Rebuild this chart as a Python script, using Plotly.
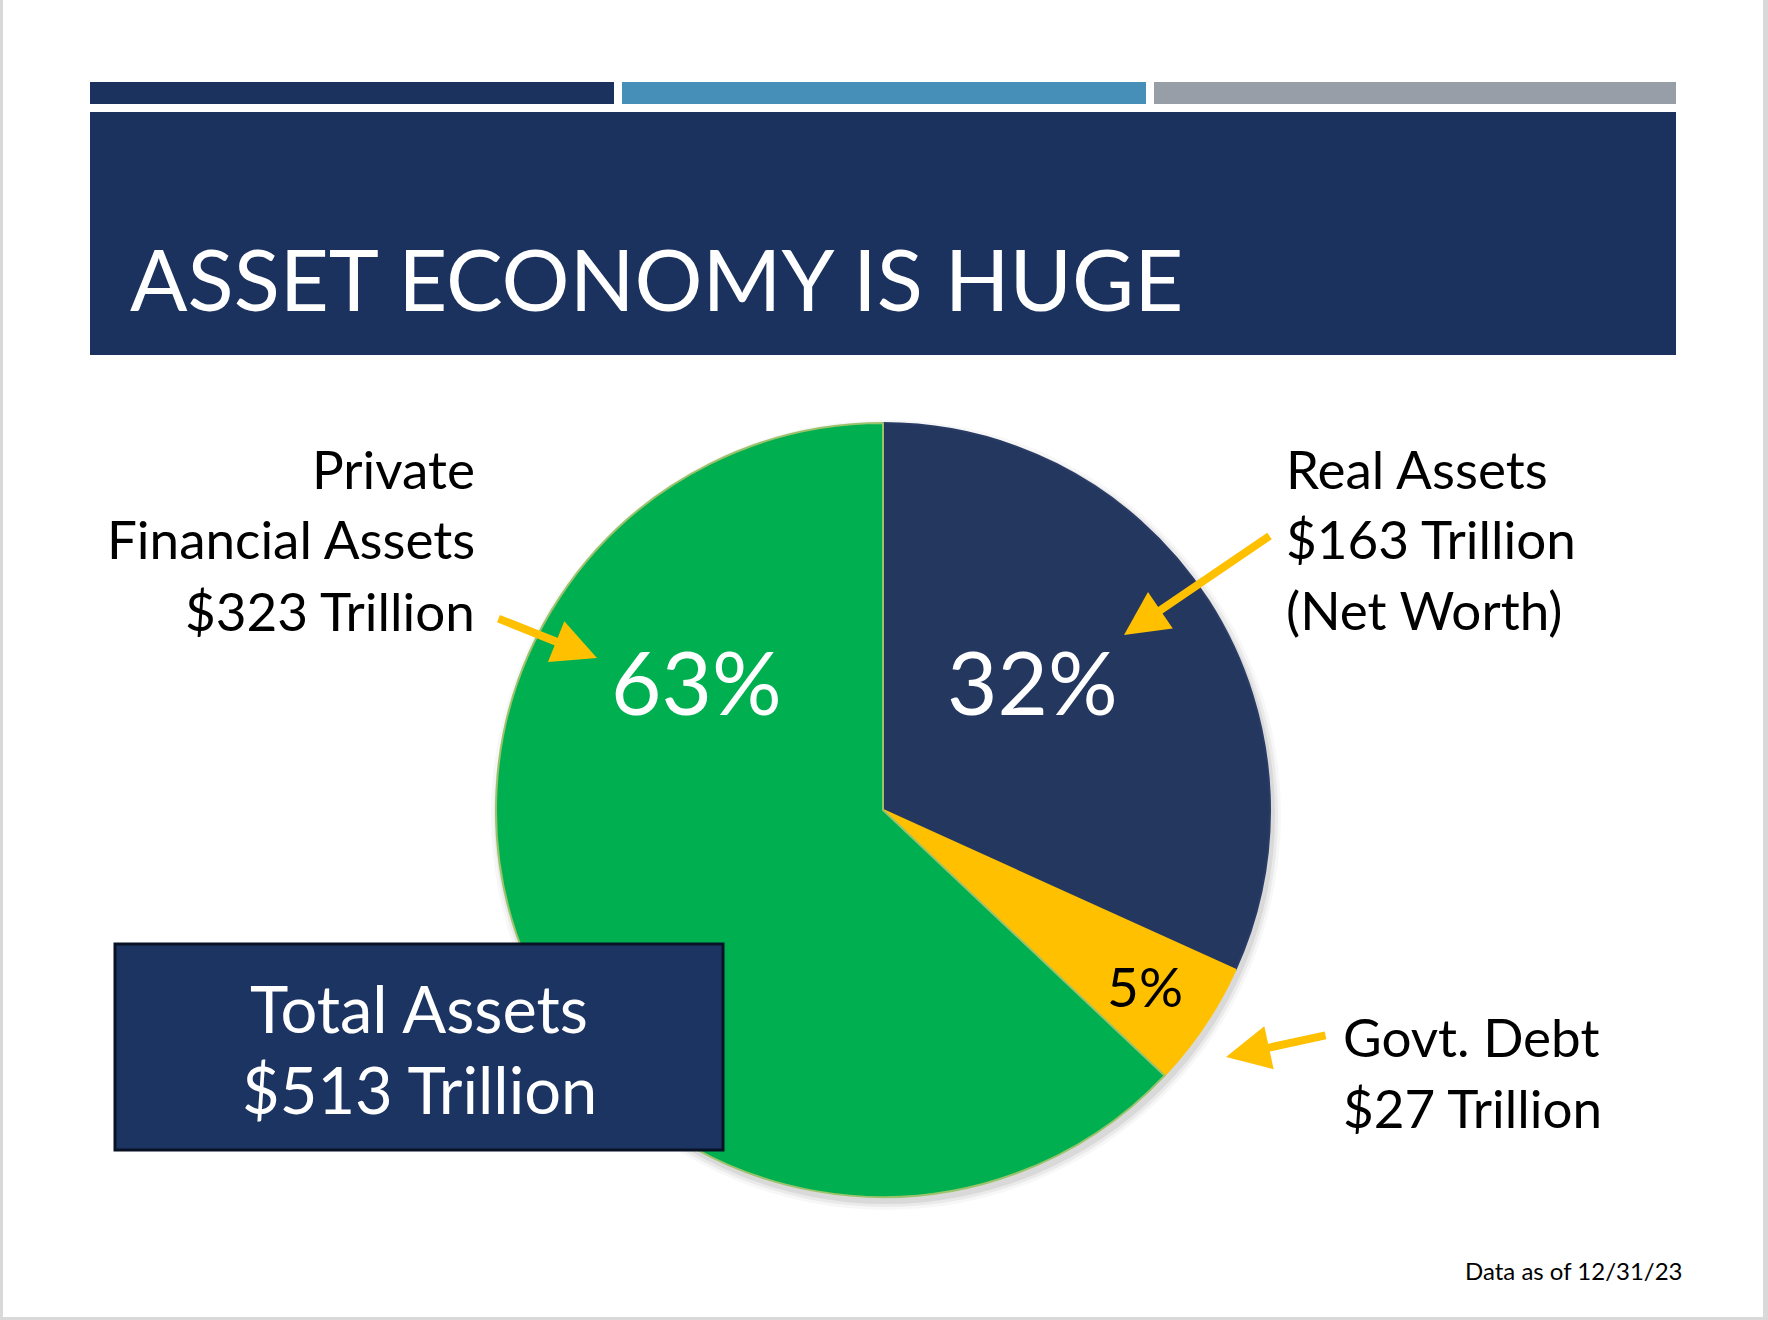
import plotly.graph_objects as go

W, H = 1768, 1320

# ---- data ----
categories = ["Real Assets", "Govt. Debt", "Private Financial Assets"]
values = [163, 27, 323]          # $ trillion
slice_colors = ["#24375F", "#FFC000", "#00B050"]
slice_edges = ["#2A3C66", "#FFC000", "#9CC36B"]
title_text = "ASSET ECONOMY IS HUGE"
footnote = "Data as of 12/31/23"

total = sum(values)
pct = [f"{round(v / total * 100)}%" for v in values]
money = [f"${v} Trillion" for v in values]

FONT = "Lato"


def px(x):
    return x / W


def py(y):
    return 1 - y / H


fig = go.Figure()

# pie: center (883, 810), radius ~387 px
fig.add_trace(go.Pie(
    labels=categories,
    values=values,
    sort=False,
    direction="clockwise",
    rotation=0,
    textinfo="none",
    hoverinfo="label+value+percent",
    marker=dict(colors=slice_colors, line=dict(color=slice_edges, width=2)),
    domain=dict(x=[px(883 - 387), px(883 + 387)], y=[py(810 + 387), py(810 - 387)]),
    showlegend=False,
))

shapes = []
# page border
shapes.append(dict(type="rect", xref="paper", yref="paper", x0=px(0), x1=px(3), y0=0, y1=1,
                   fillcolor="#D9D9D9", line_width=0, layer="below"))
shapes.append(dict(type="rect", xref="paper", yref="paper", x0=px(1763), x1=1, y0=0, y1=1,
                   fillcolor="#D9D9D9", line_width=0, layer="below"))
shapes.append(dict(type="rect", xref="paper", yref="paper", x0=0, x1=1, y0=0, y1=py(1317),
                   fillcolor="#D9D9D9", line_width=0, layer="below"))
# top colour bars
for x0, x1, c in [(90, 614, "#1B325E"), (622, 1146, "#458FB8"), (1154, 1676, "#979EA8")]:
    shapes.append(dict(type="rect", xref="paper", yref="paper", x0=px(x0), x1=px(x1),
                       y0=py(104), y1=py(82), fillcolor=c, line_width=0, layer="below"))
# title band
shapes.append(dict(type="rect", xref="paper", yref="paper", x0=px(90), x1=px(1676),
                   y0=py(355), y1=py(112), fillcolor="#1B325E", line_width=0, layer="below"))
# soft shadow beneath pie
for d, a in [(8, 0.03), (5, 0.05), (2, 0.07)]:
    shapes.append(dict(type="circle", xref="paper", yref="paper",
                       x0=px(883 - 387 - d + 3), x1=px(883 + 387 + d + 3),
                       y0=py(810 + 387 + d + 5), y1=py(810 - 387 - d + 5),
                       fillcolor=f"rgba(0,0,0,{a})", line_width=0, layer="below"))
# total assets box
shapes.append(dict(type="rect", xref="paper", yref="paper", x0=px(115), x1=px(723),
                   y0=py(1150), y1=py(944), fillcolor="#1C3461",
                   line=dict(color="#0A1226", width=3), layer="above"))

ann = []


def text(x, y, s, size, color="black", xanchor="left"):
    ann.append(dict(x=px(x), y=py(y), xref="paper", yref="paper", text=s, showarrow=False,
                    xanchor=xanchor, yanchor="middle",
                    font=dict(family=FONT, size=size, color=color)))


def arrow(x_tip, y_tip, x_tail, y_tail):
    ann.append(dict(x=px(x_tip), y=py(y_tip), xref="paper", yref="paper", text="",
                    showarrow=True, ax=x_tail - x_tip, ay=y_tail - y_tip,
                    arrowhead=2, arrowsize=1.1, arrowwidth=8, arrowcolor="#FFC000",
                    standoff=0, startstandoff=0))


# title
text(128, 278, title_text, 85, "white")

# percentage labels inside slices
text(1032, 681, pct[0], 87, "white", "center")
text(1145, 986, pct[1], 55, "black", "center")
text(696, 681, pct[2], 87, "white", "center")

# category labels
LS = 53
text(477, 469, "Private", LS, xanchor="right")
text(477, 538, "Financial Assets", LS, xanchor="right")
text(477, 610, money[2], LS, xanchor="right")

text(1284, 469, categories[0], LS)
text(1284, 538, money[0], LS)
text(1284, 609, "(Net Worth)", LS)

text(1341, 1036, categories[1], LS)
text(1341, 1107, money[1], LS)

# total box text
text(419, 1008, "Total Assets", 65, "white", "center")
text(419, 1089, f"${total} Trillion", 65, "white", "center")

# footnote
text(1685, 1270, footnote, 24, "black", "right")

# arrows
arrow(597, 658, 497, 618)
arrow(1124, 635, 1271, 535)
arrow(1226, 1057, 1327, 1035)

fig.update_layout(
    width=W, height=H,
    margin=dict(l=0, r=0, t=0, b=0),
    paper_bgcolor="white", plot_bgcolor="white",
    shapes=shapes, annotations=ann,
    font=dict(family=FONT),
)

fig.write_html("out.html", config={"displayModeBar": False},
               post_script="document.body.style.margin='0px';")
